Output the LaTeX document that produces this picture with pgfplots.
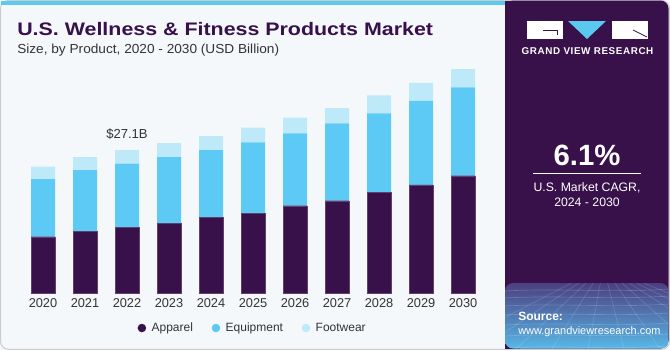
\documentclass[border=0pt]{standalone}
\usepackage{pgfplots}
\pgfplotsset{compat=1.18}
\usepackage{fontspec}
\setmainfont{Liberation Sans}
\usetikzlibrary{shadings}
\definecolor{bgc}{HTML}{F4F8FB}
\definecolor{topbar}{HTML}{5BC8F0}
\definecolor{dark}{HTML}{38104A}
\definecolor{equip}{HTML}{5DCAF5}
\definecolor{foot}{HTML}{BEE9F9}
\definecolor{txt}{HTML}{333333}
\definecolor{gradtop}{HTML}{4B3F80}
\definecolor{gradbot}{HTML}{58B8E8}
\begin{document}
\begin{tikzpicture}[x=0.75pt,y=-0.75pt]
\useasboundingbox (0,0) rectangle (670,350);
% card
\fill[bgc] (0,0) rectangle (670,350);
\draw[gray!40, line width=0.75pt, rounded corners=6] (0.5,0.5) rectangle (669.5,349.3);
\fill[topbar] (1,0.5) rectangle (506,5);
% right panel
\fill[dark, rounded corners=6] (505,0.5) rectangle (668.5,348.5);
\fill[dark] (505,0.5) rectangle (520,348.5);
\begin{scope}
\clip[rounded corners=6] (505,283) -- (668.5,283) -- (668.5,348.5) -- (505,348.5) -- cycle;
\shade[top color=gradtop, bottom color=gradbot] (505,283) rectangle (669,349);
\foreach \yy in {291,298,306,315,325,336,348}{\draw[white, opacity=0.18, line width=0.5pt] (505,\yy) .. controls (560,\yy-3) and (610,\yy+2) .. (669,\yy-2);}
\foreach \xx in {-80,-40,0,40,80,120,160,200,240,280,320}{\draw[white, opacity=0.15, line width=0.5pt] (586+\xx*0.18,283) -- (586+\xx*0.9-70,349);}
\end{scope}
% logo
\fill[white] (527,21) rectangle (563,39);
\fill[topbar] (568,21) -- (606,21) -- (587,39) -- cycle;
\fill[white] (612,21) rectangle (648,39);
\draw[dark, line width=0.6pt] (543,30) -- (557,30) -- (557,35);
\draw[dark, line width=0.6pt] (633,30) -- (647,37);
\node[anchor=base, white, font=\bfseries\fontsize{7.4}{8}\selectfont, inner sep=0pt] at (587.5,54) {\addfontfeatures{LetterSpace=6}GRAND VIEW RESEARCH};
% CAGR
\node[anchor=base, white, font=\bfseries\fontsize{22}{24}\selectfont, inner sep=0pt] at (587,165) {6.1\%};
\draw[white, line width=0.75pt] (533,173) -- (641,173);
\node[anchor=base, white, font=\fontsize{9.2}{11}\selectfont, inner sep=0pt] at (587,191) {U.S. Market CAGR,};
\node[anchor=base, white, font=\fontsize{9.2}{11}\selectfont, inner sep=0pt] at (587,206) {2024 - 2030};
\node[anchor=base west, white, font=\bfseries\fontsize{9}{10}\selectfont, inner sep=0pt] at (518,320) {Source:};
\node[anchor=base west, white, font=\fontsize{8.2}{10}\selectfont, inner sep=0pt] at (518,334) {www.grandviewresearch.com};
% titles
\node[anchor=base west, dark, font=\bfseries\fontsize{13.6}{15}\selectfont, inner sep=0pt] at (17,35) {\scalebox{1.18}[1]{U.S. Wellness \& Fitness Products Market}};
\node[anchor=base west, txt, font=\fontsize{9.8}{11}\selectfont, inner sep=0pt] at (17,53) {\scalebox{1.045}[1]{Size, by Product, 2020 - 2030 (USD Billion)}};
\begin{axis}[
  at={(0.75pt,-219.75pt)}, anchor=south west,
  scale only axis, width=378pt, height=197.87pt,
  xmin=-1, xmax=11, ymin=0, ymax=50,
  ybar stacked, bar width=18pt,
  axis line style={draw=none}, major tick length=0pt,
  xtick={0,...,10},
  xticklabels={2020,2021,2022,2023,2024,2025,2026,2027,2028,2029,2030},
  ytick=\empty,
  xticklabel style={font=\fontsize{9.6}{11}\selectfont, text=txt, inner sep=0pt, anchor=north},
  xticklabel shift=4pt,
  legend columns=3,
  legend style={at={(0.5,-0.1327)}, anchor=center, draw=none, fill=none,
    font=\fontsize{9}{10}\selectfont, text=txt,
    /tikz/every even column/.append style={column sep=12pt}},
  legend cell align=left,
  clip=false,
]
\addplot[fill=dark, draw=dark!80!white, line width=0.3pt,
  legend image code/.code={\path[draw=none,fill=none] (0pt,0pt) -- (8.5pt,0pt); \fill[dark, draw=none] (3.2pt,0pt) circle (3.2pt);}]
coordinates {(0,10.67) (1,11.62) (2,12.45) (3,13.21) (4,14.35) (5,15.16) (6,16.54) (7,17.49) (8,19.14) (9,20.47) (10,22.23)};
\addlegendentry{Apparel}
\addplot[fill=equip, draw=none,
  legend image code/.code={\path[draw=none,fill=none] (0pt,0pt) -- (8.5pt,0pt); \fill[equip, draw=none] (3.2pt,0pt) circle (3.2pt);}]
coordinates {(0,10.93) (1,11.69) (2,12.05) (3,12.56) (4,12.75) (5,13.38) (6,13.70) (7,14.65) (8,14.90) (9,15.92) (10,16.73)};
\addlegendentry{Equipment}
\addplot[fill=foot, draw=none,
  legend image code/.code={\path[draw=none,fill=none] (0pt,0pt) -- (8.5pt,0pt); \fill[foot, draw=none] (3.2pt,0pt) circle (3.2pt);}]
coordinates {(0,2.33) (1,2.46) (2,2.60) (3,2.65) (4,2.65) (5,2.79) (6,2.98) (7,2.92) (8,3.41) (9,3.41) (10,3.49)};
\addlegendentry{Footwear}
\node[anchor=base, font=\fontsize{9.8}{11}\selectfont, text=txt, inner sep=0pt] at (axis cs:2,29.37) {\$27.1B};
\end{axis}
\end{tikzpicture}
\end{document}
